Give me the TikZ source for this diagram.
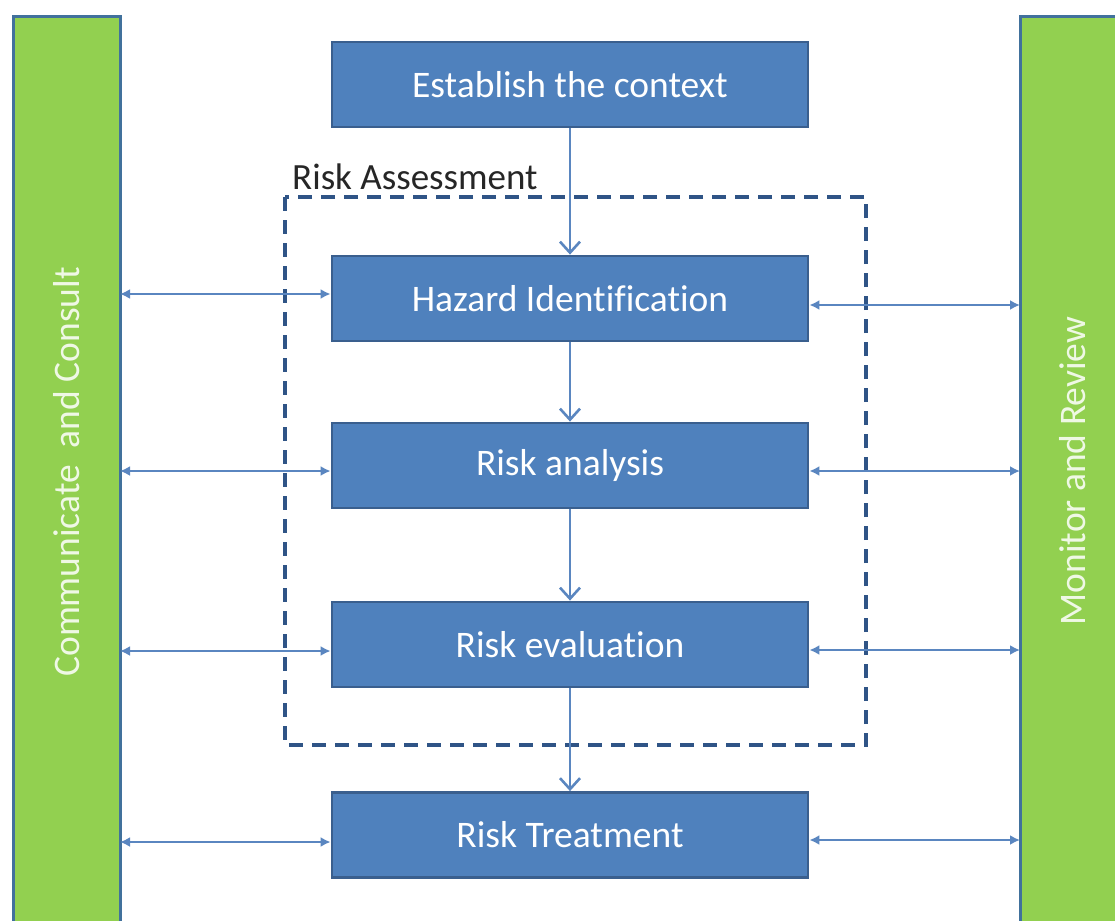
\documentclass[tikz,border=0pt]{standalone}
\usepackage{fontspec}
\setmainfont[Ligatures=NoCommon]{Carlito}
\usetikzlibrary{arrows.meta}
\definecolor{boxfill}{HTML}{4F81BD}
\definecolor{boxline}{HTML}{3A5F8E}
\definecolor{barfill}{HTML}{92D050}
\definecolor{barline}{HTML}{41719C}
\definecolor{linkcol}{HTML}{5A86C0}
\definecolor{dashcol}{HTML}{2F5486}
\begin{document}
\begin{tikzpicture}[x=1pt,y=-1pt,
  stepbox/.style={draw=boxline,line width=2.8pt,fill=boxfill,minimum width=476pt,minimum height=85pt,inner sep=0pt,text=white,font=\fontsize{37.5}{42}\selectfont},
  sidebar/.style={draw=barline,line width=3pt,fill=barfill},
  bartext/.style={text=white!85!barfill,font=\fontsize{37.5}{42}\selectfont,rotate=90},
  flow/.style={draw=linkcol,line width=2.6pt,-{Straight Barb[length=11pt,width=20pt,line width=2.6pt]}},
  link/.style={draw=linkcol,line width=2pt,{Latex[length=10pt,width=10pt]}-{Latex[length=10pt,width=10pt]}},
  riskdash/.style={draw=dashcol,line width=3.5pt,dash pattern=on 14pt off 9pt}
  ]
\useasboundingbox (0,0) rectangle (1115,920);
\fill[white] (0,0) rectangle (1115,920);
% side bars
\draw[sidebar] (13,17) rectangle (120,935);
\draw[sidebar] (1020,17) rectangle (1130,935);
\node[bartext] (cc) at (67,472) {Communicate\ \ and Consult};
\node[bartext] (mr) at (1073,471) {Monitor and Review};
\coordinate (lbar1) at (120,294);
\coordinate (lbar2) at (120,471);
\coordinate (lbar3) at (120,651);
\coordinate (lbar4) at (120,842);
\coordinate (rbar1) at (1020,305);
\coordinate (rbar2) at (1020,471);
\coordinate (rbar3) at (1020,650);
\coordinate (rbar4) at (1020,840);
% dashed risk assessment box
\draw[riskdash] (285,197) rectangle (866,745);
\node[anchor=south west,inner sep=0pt,text=black!85,font=\fontsize{37}{42}\selectfont] (ra) at (292,190) {Risk Assessment};
% step boxes
\node[stepbox] (ctx) at (570,84.5) {Establish the context};
\node[stepbox] (haz) at (570,298.5) {Hazard Identification};
\node[stepbox] (ana) at (570,465.5) {Risk analysis};
\node[stepbox] (eva) at (570,644.5) {Risk evaluation};
\node[stepbox] (trt) at (570,835) {Risk Treatment};
% flow arrows
\draw[flow] (ctx.south) -- (haz.north);
\draw[flow] (haz.south) -- (ana.north);
\draw[flow] (ana.south) -- (eva.north);
\draw[flow] (eva.south) -- (trt.north);
% side links
\draw[link] (lbar1) -- (lbar1 -| haz.west);
\draw[link] (lbar2) -- (lbar2 -| ana.west);
\draw[link] (lbar3) -- (lbar3 -| eva.west);
\draw[link] (lbar4) -- (lbar4 -| trt.west);
\draw[link] (rbar1 -| haz.east) -- (rbar1);
\draw[link] (rbar2 -| ana.east) -- (rbar2);
\draw[link] (rbar3 -| eva.east) -- (rbar3);
\draw[link] (rbar4 -| trt.east) -- (rbar4);
\end{tikzpicture}
\end{document}
